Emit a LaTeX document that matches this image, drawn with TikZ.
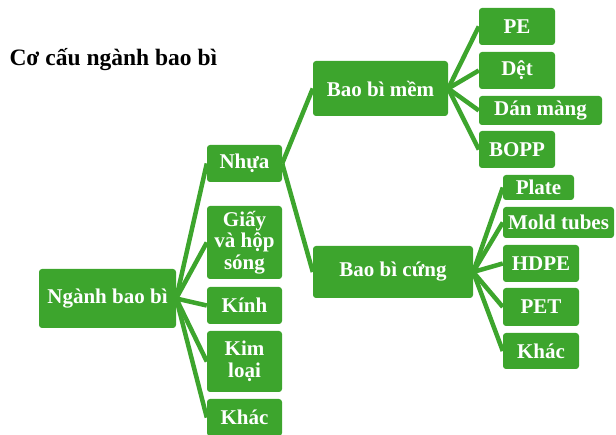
\documentclass[tikz,border=0pt]{standalone}
\usepackage{fontspec}
\setmainfont{Liberation Serif}
\usepackage{xcolor}
\usepackage{tikz}
\usetikzlibrary{positioning}

\definecolor{bbgreen}{RGB}{61,165,45}

\begin{document}
\begin{tikzpicture}[
    x=1pt, y=-1pt,
    box/.style={rectangle, fill=bbgreen, rounded corners=3pt, text=white, align=center, inner sep=0pt,
        font=\bfseries\fontsize{21}{21.7}\selectfont, minimum width=75pt, minimum height=37pt},
    link/.style={draw=bbgreen, line width=4.5pt}
]
\useasboundingbox (0,0) rectangle (616,435);

\node[anchor=base west, font=\bfseries\fontsize{23.5}{25}\selectfont] (title) at (6,66) {Cơ cấu ngành bao bì};

% level 0 and 1
\node[box, minimum width=137pt, minimum height=59pt] (root) at (107.5,298.5) {Ngành bao bì};
\node[box] (nhua) at (244.5,163.5) {Nhựa};
\node[box, minimum height=73pt] (giay) at (244.5,242.5) {Giấy\\và hộp\\sóng};
\node[box] (kinh) at (244.5,305.5) {Kính};
\node[box, minimum height=61pt] (kimloai) at (244.5,361.5) {Kim\\loại};
\node[box] (khac) at (244.5,417.5) {Khác};

% level 2
\node[box, minimum width=135pt, minimum height=55pt] (mem) at (380.5,88.5) {Bao bì mềm};
\node[box, minimum width=160pt, minimum height=52pt] (cung) at (393,272) {Bao bì cứng};

% level 3
\node[box, minimum width=76pt] (pe) at (517,26.5) {PE};
\node[box, minimum width=76pt] (det) at (517,70.5) {Dệt};
\node[box, minimum width=123pt, minimum height=29pt] (danmang) at (540.5,110.5) {Dán màng};
\node[box, minimum width=76pt] (bopp) at (517,149.5) {BOPP};

\node[box, minimum width=71pt, minimum height=25pt] (plate) at (538.5,187.5) {Plate};
\node[box, minimum width=111pt, minimum height=31pt] (mold) at (558.5,222.5) {Mold tubes};
\node[box, minimum width=76pt] (hdpe) at (541,263.5) {HDPE};
\node[box, minimum width=76pt, minimum height=38pt] (pet) at (541,307) {PET};
\node[box, minimum width=76pt, minimum height=36pt] (khacb) at (541,351) {Khác};

% connectors
\foreach \c in {nhua,giay,kinh,kimloai,khac}
    \draw[link] (root.east) -- (\c.west);
\foreach \c in {mem,cung}
    \draw[link] (nhua.east) -- (\c.west);
\foreach \c in {pe,det,danmang,bopp}
    \draw[link] (mem.east) -- (\c.west);
\foreach \c in {plate,mold,hdpe,pet,khacb}
    \draw[link] (cung.east) -- (\c.west);

\end{tikzpicture}
\end{document}
